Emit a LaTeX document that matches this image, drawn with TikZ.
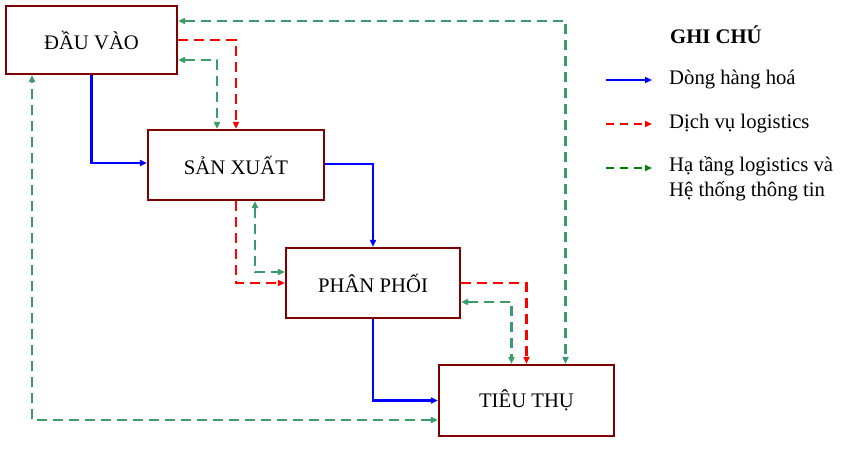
\documentclass[tikz,border=0pt]{standalone}
\usepackage{fontspec}
\setmainfont{Liberation Serif}
\usetikzlibrary{arrows.meta}
\definecolor{tdarkred}{HTML}{7F0000}
\definecolor{tgreen}{HTML}{3A9B6B}
\definecolor{tlegendgreen}{HTML}{008000}

\begin{document}
\begin{tikzpicture}[
    x=1pt, y=-1pt,
    >={Triangle[length=7pt,width=6pt]},
    etape/.style={draw=tdarkred, rectangle, line width=2.2pt, minimum width=171pt,
                  minimum height=68pt, align=center, fill=white,
                  font=\fontsize{20.7}{25}\selectfont},
    hang/.style={blue, line width=2.2pt},
    dichvu/.style={red, line width=2.2pt, dash pattern=on 10pt off 6pt},
    hatang/.style={tgreen, line width=2.2pt, dash pattern=on 10pt off 6pt},
    legende/.style={anchor=west, align=left, inner sep=0pt,
                    font=\fontsize{20.7}{25}\selectfont}
  ]
  \useasboundingbox (0,0) rectangle (841,452);
  \node[etape] (dauvao) at (91.5,40) {ĐẦU VÀO};
  \node[etape, minimum width=176pt, minimum height=70pt] (sanxuat) at (236,165) {SẢN XUẤT};
  \node[etape, minimum width=174pt, minimum height=70pt] (phanphoi) at (373,283) {PHÂN PHỐI};
  \node[etape, minimum width=175pt, minimum height=71pt] (tieuthu) at (526.5,400.5) {TIÊU THỤ};

  % dong hang hoa
  \draw[hang, ->] (dauvao.south) |- ([yshift=2pt]sanxuat.west);
  \draw[hang, ->] ([yshift=1pt]sanxuat.east) -| (phanphoi.north);
  \draw[hang, ->] (phanphoi.south) |- (tieuthu.west);

  % dich vu logistics
  \draw[dichvu, ->] (dauvao.east) -| (sanxuat.north);
  \draw[dichvu, ->] (sanxuat.south) |- (phanphoi.west);
  \draw[dichvu, ->] (phanphoi.east) -| (tieuthu.north);

  % ha tang logistics
  \draw[hatang, <->] ([yshift=-20pt]dauvao.east) -| ([xshift=-19pt]sanxuat.north);
  \draw[hatang, <->] ([xshift=19pt]sanxuat.south) |- ([yshift=11pt]phanphoi.west);
  \draw[hatang, <->] ([yshift=-19pt]phanphoi.east) -| ([xshift=-15pt]tieuthu.north);
  \draw[hatang, <->] ([yshift=19pt]dauvao.east) -| ([xshift=39pt]tieuthu.north);
  \draw[hatang, <->] ([yshift=-19.5pt]tieuthu.west) -| ([xshift=-59.5pt]dauvao.south);

  % ghi chu
  \node[legende, font=\fontsize{20.7}{25}\selectfont\bfseries] (ghichu) at (670,35) {GHI CHÚ};
  \coordinate (l1) at (606,80);
  \coordinate (l2) at (606,124);
  \coordinate (l3) at (606,168);
  \node[legende] (t1) at (669,80) {Dòng hàng hoá};
  \node[legende] (t2) at (669,124) {Dịch vụ logistics};
  \node[legende, anchor=north west] (t3) at (669,156) {Hạ tầng logistics và\\Hệ thống thông tin};
  \draw[hang, ->] (l1) -- ++(46,0);
  \draw[red, line width=2.2pt, dash pattern=on 8pt off 6pt, ->] (l2) -- ++(46,0);
  \draw[tlegendgreen, line width=2.2pt, dash pattern=on 8pt off 6pt, ->] (l3) -- ++(46,0);
\end{tikzpicture}
\end{document}
